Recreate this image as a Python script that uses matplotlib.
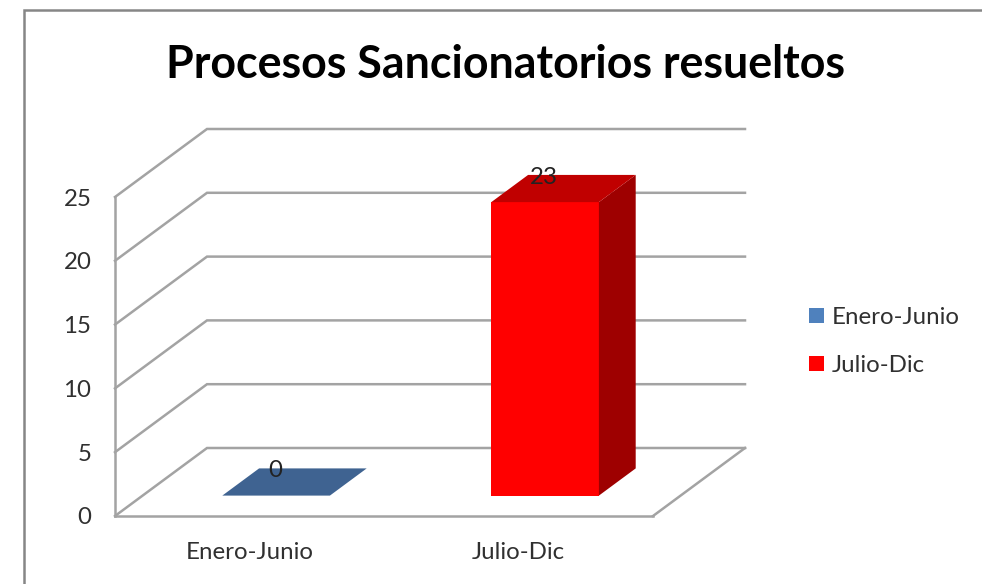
import matplotlib
matplotlib.use("Agg")
import matplotlib.pyplot as plt
from matplotlib.lines import Line2D
from matplotlib.patches import Patch, Polygon

plt.rcParams['font.family'] = ['Lato', 'DejaVu Sans']

categories = ['Enero-Junio', 'Julio-Dic']
values = [0, 23]
yticks = [0, 5, 10, 15, 20, 25]
title = 'Procesos Sancionatorios resueltos'

W, H = 982, 584
GRID = '#a3a3a3'
TEXT = '#303030'
FS = 17.3
LW = 1.8
front_colors = ['#4f81bd', '#ff0000']
top_colors = ['#3f6391', '#c00000']
side_colors = ['#2f4f75', '#9e0000']

# depth of the 3d floor, in data units (one category wide, 25 high)
depth_x = 92 / 269
depth_y = 68 / 12.76
bar_w = 0.40
bar_shift = -1 / 269
d_front, d_back = 0.30, 0.70


def proj(x, v, d):
    return x + d * depth_x, v + d * depth_y


def poly(ax, pts, color, z):
    xy = [proj(*p) for p in pts]
    ax.add_patch(Polygon(xy, closed=True, facecolor=color, edgecolor='none', zorder=z, clip_on=False))


fig = plt.figure(figsize=(W / 100, H / 100), dpi=100, facecolor='white')
ax = fig.add_axes([115 / W, 1 - 516 / H, 538 / W, 319 / H])
ax.set_xlim(0, len(categories))
ax.set_ylim(0, 25)
ax.patch.set_alpha(0)

for s in ['top', 'right']:
    ax.spines[s].set_visible(False)
for s in ['left', 'bottom']:
    ax.spines[s].set_color(GRID)
    ax.spines[s].set_linewidth(LW)

# back wall, side wall and floor lines
n = len(categories)
for v in yticks:
    xs, ys = zip(proj(0, v, 0), proj(0, v, 1), proj(n, v, 1))
    ax.plot(xs, ys, color=GRID, lw=LW, clip_on=False, zorder=1, solid_joinstyle='miter')
xs, ys = zip(proj(n, 0, 0), proj(n, 0, 1))
ax.plot(xs, ys, color=GRID, lw=LW, clip_on=False, zorder=1)

# bars
for i, v in enumerate(values):
    c = i + 0.5 + bar_shift
    x0 = c - bar_w / 2
    x1 = c + bar_w / 2
    poly(ax, [(x0, 0, d_front), (x1, 0, d_front), (x1, v, d_front), (x0, v, d_front)], front_colors[i], 3)
    poly(ax, [(x1, 0, d_front), (x1, 0, d_back), (x1, v, d_back), (x1, v, d_front)], side_colors[i], 3)
    poly(ax, [(x0, v, d_front), (x1, v, d_front), (x1, v, d_back), (x0, v, d_back)], top_colors[i], 3)
    lx = proj(c, v, d_front)[0]
    ly = proj(c, v, d_back)[1]
    ax.annotate(str(v), (lx, ly), xytext=(-0.7, -1.5), textcoords='offset points', ha='center', va='center',
                fontsize=FS, color='#222222', zorder=5, annotation_clip=False)

ax.set_yticks(yticks)
ax.set_xticks([i + 0.5 for i in range(n)])
ax.set_xticklabels(categories)
ax.tick_params(axis='y', length=0, labelsize=FS, labelcolor=TEXT, pad=17)
ax.tick_params(axis='x', length=0, labelsize=FS, labelcolor=TEXT, pad=19)

fig.text(505 / W, 1 - 65 / H, title, ha='center', va='center', fontsize=32.2, fontweight='bold', color='black')

handles = [Patch(facecolor=front_colors[i], edgecolor='none', label=categories[i]) for i in range(n)]
fig.legend(handles=handles, loc='center left', bbox_to_anchor=(802 / W, 1 - 341.5 / H), frameon=False,
           fontsize=FS, labelcolor=TEXT, handlelength=0.62, handleheight=0.62, handletextpad=0.3,
           labelspacing=1.13, borderpad=0.3, borderaxespad=0)

# chart border, runs off the picture on the right and bottom
fig.add_artist(Line2D([24 / W, 24 / W, 1], [0, 1 - 10 / H, 1 - 10 / H], color='#868686', lw=1.8,
                      solid_joinstyle='miter'))

fig.savefig('out.png', dpi=100, facecolor='white')
